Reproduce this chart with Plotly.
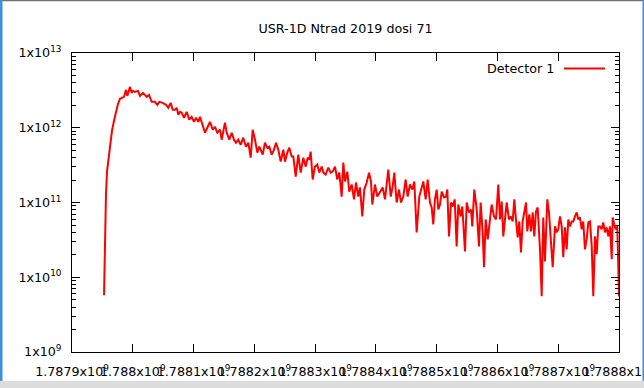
import plotly.graph_objects as go

# ---------------- data ----------------
X_BASE = 1787900000
x_offset = [
    52700, 54300, 55900, 57600, 60100, 62500, 65800, 69100, 72400, 75700,
    79000, 82300, 85600, 88800, 91000, 95400, 98200, 100400, 103700, 108600,
    111900, 116800, 122900, 126700, 131100, 136600, 140300, 143600, 149200, 154700,
    158400, 162400, 165700, 169500, 172300, 174900, 177700, 180500, 184300, 188700,
    193000, 196900, 200700, 204000, 207800, 210600, 215000, 218800, 222600, 227100,
    231500, 235300, 239100, 243500, 246300, 251700, 254500, 258800, 262800, 266500,
    269800, 273600, 277600, 281800, 286300, 290100, 294000, 297300, 301100, 304900,
    308200, 313800, 317500, 321300, 324600, 328600, 332400, 335600, 339400, 343400,
    347700, 350400, 354200, 357500, 361500, 364100, 368100, 372300, 376300, 380600,
    384500, 387800, 390400, 392700, 396000, 399800, 403600, 406900, 410800, 413500,
    417400, 421700, 425600, 428900, 432700, 436500, 439800, 443700, 446400, 449200,
    453000, 456200, 460200, 464000, 467300, 471000, 473800, 477600, 480900, 484900,
    488700, 491900, 494100, 498500, 502300, 506800, 511200, 515000, 520400, 524400,
    527600, 530300, 534200, 538000, 541300, 545100, 549000, 552300, 556100, 559900,
    563200, 567100, 571400, 575400, 578000, 581900, 585200, 589000, 591800, 594400,
    597200, 600000, 602700, 605500, 608300, 612100, 615300, 617500, 620300, 623600,
    626400, 629700, 632900, 635600, 639500, 642200, 646600, 649400, 653200, 656500,
    658600, 661900, 665900, 669600, 672400, 675700, 677900, 680700, 684000, 687700,
    690500, 694300, 697600, 701400, 704200, 707000, 709600, 712400, 715200, 719000,
    721800, 725100, 727700, 730500, 733300, 735900, 738700, 741500, 744200, 747000,
    749100, 752400, 755200, 758000, 760600, 763400, 766200, 770000, 772800, 775400,
    778200, 782000, 784800, 788100, 790900, 794700, 797500, 800100, 802900, 805700,
    808300, 811100, 813900, 816600, 819400, 822200, 824800, 827600, 830400, 833000,
    835800, 838600, 841200, 844000, 846800, 849500, 852300, 855100, 857700, 860500,
    863300, 865900, 868700, 871500, 874100, 876900, 879700, 882400, 885200, 888000,
    889600, 892200, 894600, 897200, 900000,
]
detector1 = [
    5.75e9, 3.21e10, 1.28e11, 2.59e11, 3.98e11, 5.93e11, 9.12e11, 1.24e12, 1.63e12, 2.09e12,
    2.44e12, 2.51e12, 2.59e12, 3.21e12, 2.67e12, 3.52e12, 2.93e12, 3.11e12, 3.02e12, 3.11e12,
    2.67e12, 2.93e12, 2.59e12, 2.75e12, 2.22e12, 2.22e12, 2.03e12, 2.22e12, 2.15e12, 2.03e12,
    1.85e12, 2.15e12, 1.74e12, 1.74e12, 1.85e12, 1.49e12, 1.63e12, 1.59e12, 1.36e12, 1.63e12,
    1.28e12, 1.40e12, 1.20e12, 1.36e12, 1.20e12, 1.40e12, 1.10e12, 8.58e11, 1.00e12, 1.20e12,
    9.40e11, 1.03e12, 8.58e11, 9.40e11, 6.92e11, 1.17e12, 8.58e11, 6.92e11, 8.58e11, 6.92e11,
    6.31e11, 6.92e11, 5.93e11, 7.36e11, 5.58e11, 6.31e11, 3.98e11, 9.40e11, 6.92e11, 4.64e11,
    5.58e11, 4.37e11, 6.31e11, 5.41e11, 5.58e11, 4.37e11, 5.09e11, 6.31e11, 5.09e11, 3.52e11,
    5.09e11, 3.52e11, 4.64e11, 5.41e11, 4.11e11, 4.11e11, 2.22e11, 4.37e11, 2.51e11, 3.98e11,
    3.02e11, 3.98e11, 3.74e11, 4.79e11, 2.03e11, 3.02e11, 3.21e11, 2.51e11, 3.02e11, 2.51e11,
    2.36e11, 2.93e11, 2.51e11, 2.59e11, 3.02e11, 2.03e11, 2.51e11, 1.20e11, 3.42e11, 1.91e11,
    2.59e11, 1.40e11, 1.74e11, 1.10e11, 1.85e11, 1.20e11, 1.59e11, 6.51e10, 1.49e11, 1.85e11,
    2.51e11, 1.91e11, 9.40e10, 1.74e11, 1.20e11, 1.40e11, 1.59e11, 1.10e11, 2.75e11, 1.20e11,
    1.63e11, 2.51e11, 1.00e11, 1.49e11, 1.00e11, 1.20e11, 2.03e11, 1.20e11, 1.74e11, 1.49e11,
    1.91e11, 3.98e10, 1.20e11, 1.59e11, 1.91e11, 1.10e11, 2.03e11, 1.00e11, 8.58e10, 5.09e10,
    1.10e11, 1.49e11, 8.07e10, 9.40e10, 1.40e11, 1.17e11, 1.20e11, 1.49e11, 3.52e10, 1.00e11,
    8.84e10, 1.10e11, 2.59e10, 9.40e10, 6.51e10, 8.84e10, 2.22e10, 1.00e11, 7.36e10, 8.07e10,
    4.79e10, 1.49e11, 8.07e10, 2.59e10, 1.00e11, 3.98e10, 1.36e10, 5.93e10, 3.21e10, 5.93e10,
    9.40e10, 6.51e10, 5.93e10, 1.74e11, 5.93e10, 1.03e11, 3.52e10, 5.93e10, 1.00e11, 5.93e10,
    6.51e10, 5.58e10, 1.10e11, 5.93e10, 3.42e10, 5.58e10, 2.15e10, 5.58e10, 7.36e10, 1.00e11,
    4.11e10, 6.92e10, 4.11e10, 7.36e10, 3.52e10, 7.59e10, 8.58e10, 2.36e10, 5.58e9, 6.31e10,
    1.63e10, 1.10e11, 7.36e10, 2.93e10, 1.36e10, 4.79e10, 3.98e10, 4.37e10, 6.51e10, 4.79e10,
    1.85e10, 4.64e10, 2.36e10, 5.93e10, 4.79e10, 5.58e10, 5.58e10, 6.51e10, 7.36e10, 5.93e10,
    6.31e10, 4.37e10, 5.58e10, 2.36e10, 3.21e10, 5.41e10, 5.58e10, 2.59e10, 5.58e9, 3.52e10,
    2.03e10, 4.79e10, 4.79e10, 4.37e10, 5.41e10, 3.98e10, 4.64e10, 3.52e10, 4.79e10, 1.74e10,
    6.31e10, 5.09e10, 4.37e10, 4.79e10, 5.58e9,
]
x_tick_vals = [1787900000, 1788000000, 1788100000, 1788200000, 1788300000,
               1788400000, 1788500000, 1788600000, 1788700000, 1788800000]
x_tick_text = ["1.7879x10<sup>9</sup>", "1.788x10<sup>9</sup>", "1.7881x10<sup>9</sup>",
               "1.7882x10<sup>9</sup>", "1.7883x10<sup>9</sup>", "1.7884x10<sup>9</sup>",
               "1.7885x10<sup>9</sup>", "1.7886x10<sup>9</sup>", "1.7887x10<sup>9</sup>",
               "1.7888x10<sup>9</sup>"]
y_tick_vals = [1e9, 1e10, 1e11, 1e12, 1e13]
y_tick_text = ["1x10<sup>9</sup>", "1x10<sup>10</sup>", "1x10<sup>11</sup>",
               "1x10<sup>12</sup>", "1x10<sup>13</sup>"]
series_name = "Detector 1"
title_text = "USR-1D Ntrad 2019 dosi 71"

x_values = [X_BASE + o for o in x_offset]
assert len(x_values) == len(detector1)

# ---------------- figure ----------------
W, H = 644, 388
L, R, T, B = 72, 25, 53, 36
PW, PH = W - L - R, H - T - B
FONT = "DejaVu Sans"
FS = 12.7

def px(x):
    return (x - L) / PW

def py(y):
    return (H - B - y) / PH

fig = go.Figure()
fig.add_trace(go.Scatter(x=x_values, y=detector1, mode="lines", name=series_name,
                         line=dict(color="#ff0000", width=2), showlegend=False,
                         hoverinfo="skip"))

minor_vals = [m * 10 ** e for e in range(9, 13) for m in range(2, 10)]

fig.update_layout(
    width=W, height=H,
    margin=dict(l=L, r=R, t=T, b=B, pad=0, autoexpand=False),
    paper_bgcolor="white", plot_bgcolor="white",
    font=dict(family=FONT, size=FS, color="black"),
    title=dict(text=title_text, x=0.5, xref="paper", xanchor="center",
               y=1 - 29 / H, yref="container", yanchor="middle", automargin=False,
               font=dict(family=FONT, size=FS, color="black")),
    xaxis=dict(range=[1787900000, 1788800000], tickmode="array",
               tickvals=x_tick_vals, ticktext=x_tick_text, tickangle=0,
               ticks="inside", ticklen=8, tickwidth=1, tickcolor="black",
               ticklabelstandoff=8, ticklabeloverflow="allow", automargin=False,
               showline=True, linecolor="black", linewidth=1, mirror="ticks",
               showgrid=False, zeroline=False,
               tickfont=dict(family=FONT, size=FS, color="black")),
    yaxis=dict(type="log", range=[9, 13], tickmode="array",
               tickvals=y_tick_vals, ticktext=y_tick_text,
               ticks="inside", ticklen=8, tickwidth=1, tickcolor="black",
               ticklabelstandoff=7, ticklabeloverflow="allow", automargin=False,
               minor=dict(ticks="inside", ticklen=4, tickwidth=1, tickcolor="black",
                          tickmode="array", tickvals=minor_vals, showgrid=False),
               showline=True, linecolor="black", linewidth=1, mirror="ticks",
               showgrid=False, zeroline=False,
               tickfont=dict(family=FONT, size=FS, color="black")),
)

# legend drawn gnuplot-style (text then sample on the right)
fig.add_annotation(x=px(556), y=py(69), xref="paper", yref="paper",
                   text=series_name, showarrow=False, xanchor="right", yanchor="middle",
                   font=dict(family=FONT, size=FS, color="black"))
fig.add_shape(type="line", xref="paper", yref="paper",
              x0=px(564), x1=px(605), y0=py(68.5), y1=py(68.5),
              line=dict(color="#ff0000", width=2))

# window chrome around the plot
chrome = [
    (0, 0, W, 1.2, "#707070"),
    (0, 0, 2.5, 381, "#3d8fe0"),
    (642.5, 0, W, 381, "#3d8fe0"),
    (0, 381, W, H, "#dcdcdc"),
]
for x0, y0, x1, y1, c in chrome:
    fig.add_shape(type="rect", xref="paper", yref="paper",
                  x0=px(x0), x1=px(x1), y0=py(y1), y1=py(y0),
                  line=dict(width=0), fillcolor=c, layer="above")

fig.write_html("out.html", config={"displayModeBar": False},
               post_script="document.body.style.margin='0';document.body.style.overflow='hidden';")
